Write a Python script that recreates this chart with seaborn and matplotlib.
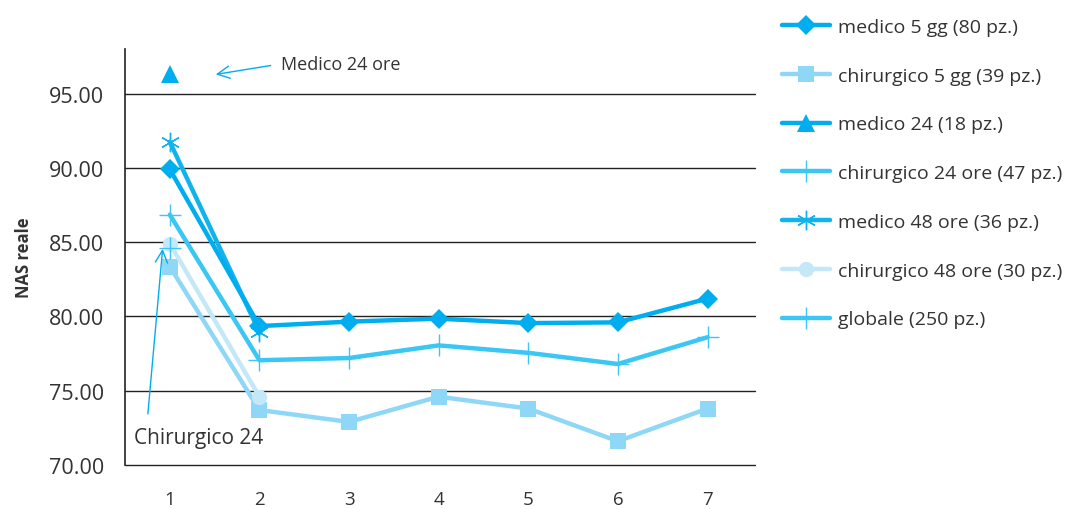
import matplotlib
matplotlib.use("Agg")
import matplotlib.pyplot as plt
import seaborn as sns
import pandas as pd

# ---- data ----
days = [1, 2, 3, 4, 5, 6, 7]
medico_5gg = [89.9, 79.35, 79.65, 79.85, 79.55, 79.6, 81.2]
chirurgico_5gg = [83.35, 73.7, 72.9, 74.6, 73.8, 71.6, 73.8]
medico_24_days = [1]
medico_24 = [96.35]
chirurgico_24_days = [1]
chirurgico_24 = [84.6]
medico_48_days = [1, 2]
medico_48 = [91.75, 78.95]
chirurgico_48_days = [1, 2]
chirurgico_48 = [84.9, 74.6]
globale = [86.85, 77.05, 77.2, 78.05, 77.55, 76.8, 78.6]

labels = ["medico 5 gg (80 pz.)", "chirurgico 5 gg (39 pz.)", "medico 24 (18 pz.)",
          "chirurgico 24 ore (47 pz.)", "medico 48 ore (36 pz.)",
          "chirurgico 48 ore (30 pz.)", "globale (250 pz.)"]
y_ticks = [70, 75, 80, 85, 90, 95]
y_label = "NAS reale"

sns.set_theme(style="white")
plt.rcParams['font.family'] = ['Open Sans', 'DejaVu Sans']
txt = "#333333"

fig = plt.figure(figsize=(10.71, 5.10), dpi=100)
ax = fig.add_axes([125/1071, 1-466/510, 630/1071, 416/510])

series = [
    (days, chirurgico_5gg, labels[1], "#8fd7f7", "s", 11, 0, 2),
    (chirurgico_48_days, chirurgico_48, labels[5], "#c4e8f8", "o", 11, 0, 2),
    (days, globale, labels[6], "#3cc6f4", "|", 16, 1.0, 3),
    (chirurgico_24_days, chirurgico_24, labels[3], "#3cc6f4", "|", 16, 1.0, 3),
    (medico_48_days, medico_48, labels[4], "#12b2ed", (6, 2, 0), 14, 1.0, 4),
    (days, medico_5gg, labels[0], "#00aeef", "D", 10, 0, 5),
    (medico_24_days, medico_24, labels[2], "#00aeef", "^", 13, 0, 5),
]
handles = {}
for xs, ys, lab, col, mk, ms, mew, z in series:
    df = pd.DataFrame({"x": xs, "y": ys})
    sns.lineplot(data=df, x="x", y="y", ax=ax, color=col, marker=mk, markersize=ms,
                 markeredgewidth=mew if mew else 0, markeredgecolor=col,
                 linewidth=3.2, zorder=z, label=lab, legend=False)
    handles[lab] = ax.lines[-1]
for xs, ys, col in [(days, globale, "#3cc6f4"), (chirurgico_24_days, chirurgico_24, "#3cc6f4")]:
    ax.plot(xs, ys, linestyle="none", marker="_", markersize=16, markeredgewidth=1.0,
            color=col, zorder=3)

ax.set_xlim(0.5, 7.53)
ax.set_ylim(70, 98)
ax.set_yticks(y_ticks)
ax.set_yticklabels([f"{v:.2f}" for v in y_ticks], fontsize=15.5, color=txt)
ax.set_xticks(days)
ax.set_xticklabels([str(d) for d in days], fontsize=13.5, color=txt)
ax.tick_params(axis="x", length=0, pad=18)
ax.tick_params(axis="y", length=0, pad=15)
for v in y_ticks:
    ax.axhline(v, color="#222222", linewidth=1.0, zorder=0, clip_on=False)
for s in ["top", "right", "bottom"]:
    ax.spines[s].set_visible(False)
ax.spines["left"].set_color("#222222")
ax.spines["left"].set_linewidth(1.2)
ax.set_xlabel("")
ax.set_ylabel(y_label, fontsize=12, fontweight="bold", color=txt)
ax.yaxis.set_label_coords(-92/630, 0.5)

# annotations
ax.annotate("", xy=(1.513, 96.29), xytext=(2.126, 96.89),
            arrowprops=dict(arrowstyle="->", color="#00aeef", lw=1.0,
                            shrinkA=0, shrinkB=0, mutation_scale=22))
ax.text(2.24, 97.0, "Medico 24 ore", fontsize=13, color=txt, va="center", ha="left")
ax.annotate("", xy=(0.92, 84.55), xytext=(0.755, 73.44),
            arrowprops=dict(arrowstyle="->", color="#00aeef", lw=1.0,
                            shrinkA=0, shrinkB=0, mutation_scale=22))
ax.text(0.6, 71.85, "Chirurgico 24", fontsize=15, color=txt, va="center", ha="left")

order = labels
leg = fig.legend([handles[l] for l in order], order, loc="upper left",
                 bbox_to_anchor=(782/1071, 1-19/510), frameon=False, fontsize=14,
                 handlelength=2.47, labelspacing=1.58, handletextpad=0.41,
                 borderpad=0, borderaxespad=0, labelcolor=txt)

fig.savefig("out.png", dpi=100)
